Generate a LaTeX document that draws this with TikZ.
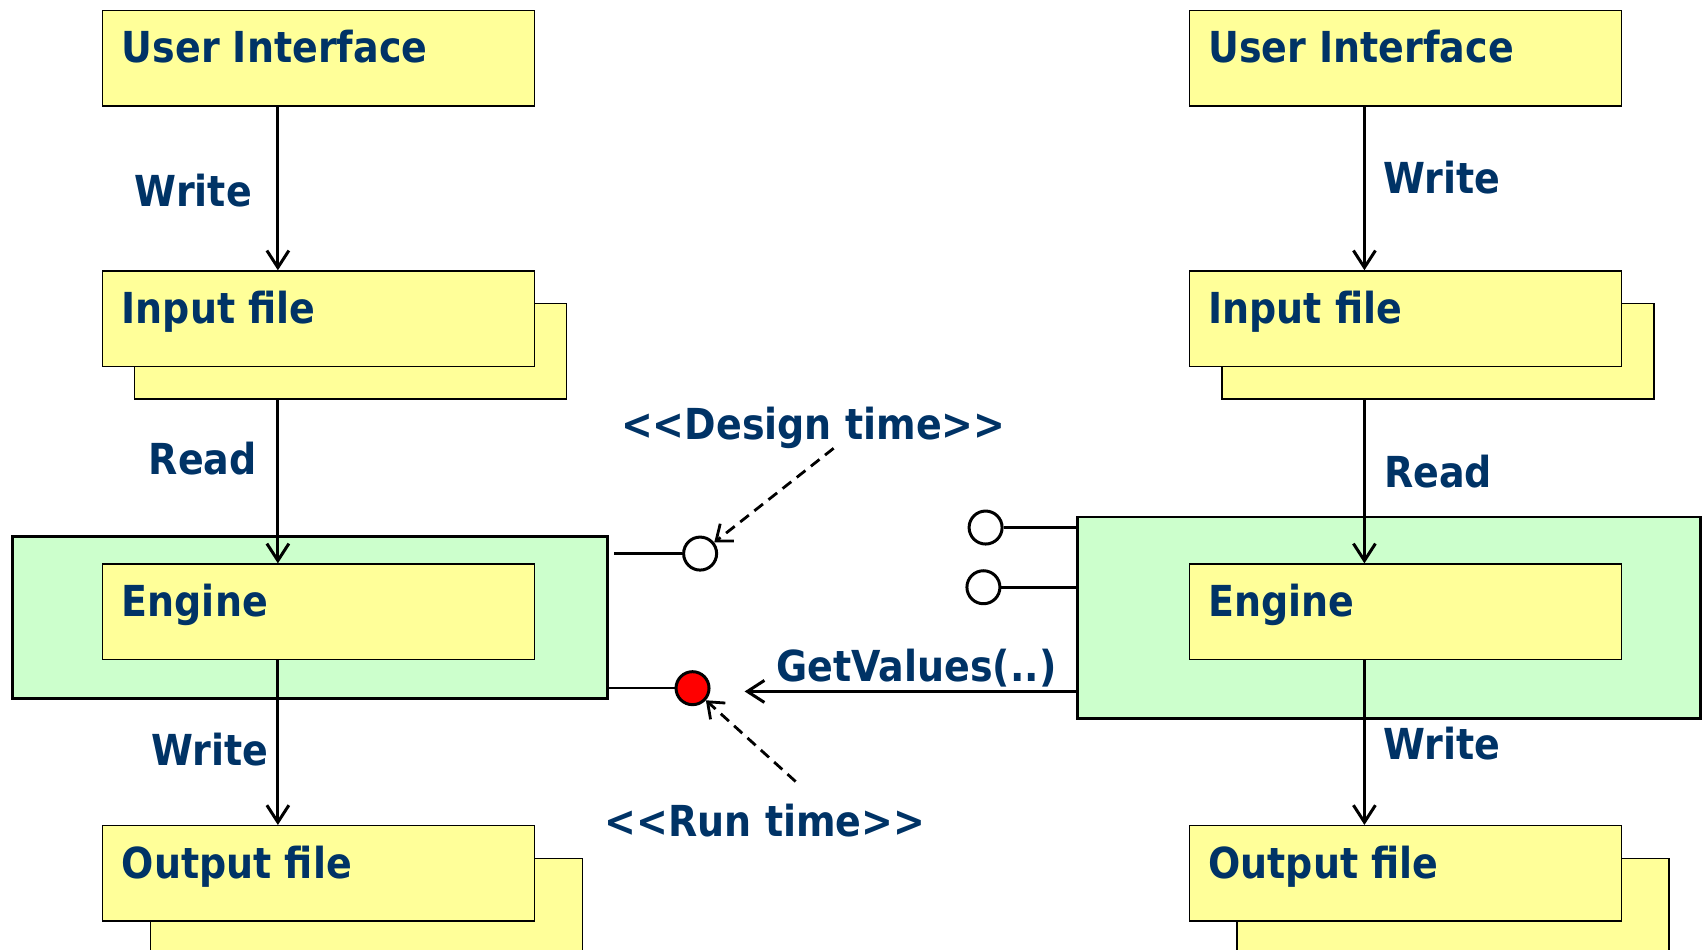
\documentclass[tikz,border=0pt]{standalone}
\usepackage{fontspec}
\newfontfamily\lbl{DejaVu Sans}[FakeStretch=0.89]
\usetikzlibrary{arrows.meta,calc}
\definecolor{txt}{HTML}{003366}
\definecolor{yel}{HTML}{FFFF99}
\definecolor{grn}{HTML}{CCFFCC}
\definecolor{redc}{HTML}{FF0000}
\tikzset{
  ybox/.style={draw,line width=1.4pt,fill=yel,rectangle,anchor=north west,
    minimum width=432pt,minimum height=95.5pt,inner sep=0pt},
  gbox/.style={draw,line width=2.8pt,fill=grn,rectangle,anchor=north west,inner sep=0pt},
  lbltxt/.style={anchor=base west,inner sep=0pt,text=txt,
    font=\lbl\bfseries\fontsize{42.7}{48}\selectfont},
  arr/.style={line width=3pt,-{Straight Barb[length=17pt,width=22pt]}},
  darr/.style={line width=2.8pt,dash pattern=on 11pt off 7pt,-{Straight Barb[length=14pt,width=22pt]}},
  iface/.style={line width=2.6pt},
  port/.style={circle,draw,line width=3pt,fill=white,minimum size=33pt,inner sep=0pt},
}
\begin{document}
\begin{tikzpicture}[x=1.0855pt,y=-1.0855pt]
\useasboundingbox (0,0) rectangle (1568,875);

% ---------- left column ----------
\node[ybox] (ui1) at (94,9) {};
\node[lbltxt] (ui1t) at ($(ui1.north west)+(18,49)$) {User Interface};

\node[ybox] (in1s) at (123,279) {};
\node[ybox] (in1) at (94,249) {};
\node[lbltxt] (in1t) at ($(in1.north west)+(18,49)$) {Input file};

\node[gbox,minimum width=594.9pt,minimum height=161.7pt] (g1) at (10,493) {};
\node[ybox] (en1) at (94,519) {};
\node[lbltxt] (en1t) at ($(en1.north west)+(18,49)$) {Engine};

\node[ybox] (out1s) at (138,790) {};
\node[ybox] (out1) at (94,760) {};
\node[lbltxt] (out1t) at ($(out1.north west)+(18,49)$) {Output file};

\draw[arr] ($(ui1.south west)+(162,0)$) -- ($(in1.north west)+(162,0)$);
\draw[arr] ($(in1s.south west)+(133,0)$) -- ($(en1.north west)+(162,0)$);
\draw[arr] ($(en1.south west)+(162,0)$) -- ($(out1.north west)+(162,0)$);

\node[lbltxt] (w1) at (124,190) {Write};
\node[lbltxt] (r1) at (137,437) {Read};
\node[lbltxt] (w2) at (139,705) {Write};

% ---------- right column ----------
\node[ybox] (ui2) at (1095,9) {};
\node[lbltxt] (ui2t) at ($(ui2.north west)+(18,49)$) {User Interface};

\node[ybox] (in2s) at (1125,279) {};
\node[ybox] (in2) at (1095,249) {};
\node[lbltxt] (in2t) at ($(in2.north west)+(18,49)$) {Input file};

\node[gbox,minimum width=623.1pt,minimum height=201.9pt] (g2) at (991,475) {};
\node[ybox] (en2) at (1095,519) {};
\node[lbltxt] (en2t) at ($(en2.north west)+(18,49)$) {Engine};

\node[ybox] (out2s) at (1139,790) {};
\node[ybox] (out2) at (1095,760) {};
\node[lbltxt] (out2t) at ($(out2.north west)+(18,49)$) {Output file};

\draw[arr] ($(ui2.south west)+(162,0)$) -- ($(in2.north west)+(162,0)$);
\draw[arr] ($(in2s.south west)+(132,0)$) -- ($(en2.north west)+(162,0)$);
\draw[arr] ($(en2.south west)+(162,0)$) -- ($(out2.north west)+(162,0)$);

\node[lbltxt] (w3) at (1274,178) {Write};
\node[lbltxt] (r2) at (1275,449) {Read};
\node[lbltxt] (w4) at (1274,700) {Write};

% ---------- interfaces ----------
\node[port] (dc) at (645,510) {};
\coordinate (d0) at (566,510);
\draw[iface] (d0) -- (dc.west);

\node[port,fill=redc] (rc) at (638,634) {};
\draw[iface] (g1.east |- rc) -- (rc.west);

\node[port] (p1) at (908,486) {};
\node[port] (p2) at (906,541) {};
\draw[iface] (p1.east) -- (g2.west |- p1);
\draw[iface] (p2.east) -- (g2.west |- p2);

\coordinate (gvend) at (686,637);
\draw[arr] (g2.west |- gvend) -- (gvend);
\node[lbltxt] (gv) at (715,628) {GetValues(..)};

\coordinate (ds) at (768,413);
\draw[darr] (ds) -- (dc);
\node[lbltxt] (dt) at (572,405) {<{}<Design time>{}>};

\coordinate (rs) at (733,720);
\draw[darr] (rs) -- (rc);
\node[lbltxt] (rt) at (557,771) {<{}<Run time>{}>};
\end{tikzpicture}
\end{document}
